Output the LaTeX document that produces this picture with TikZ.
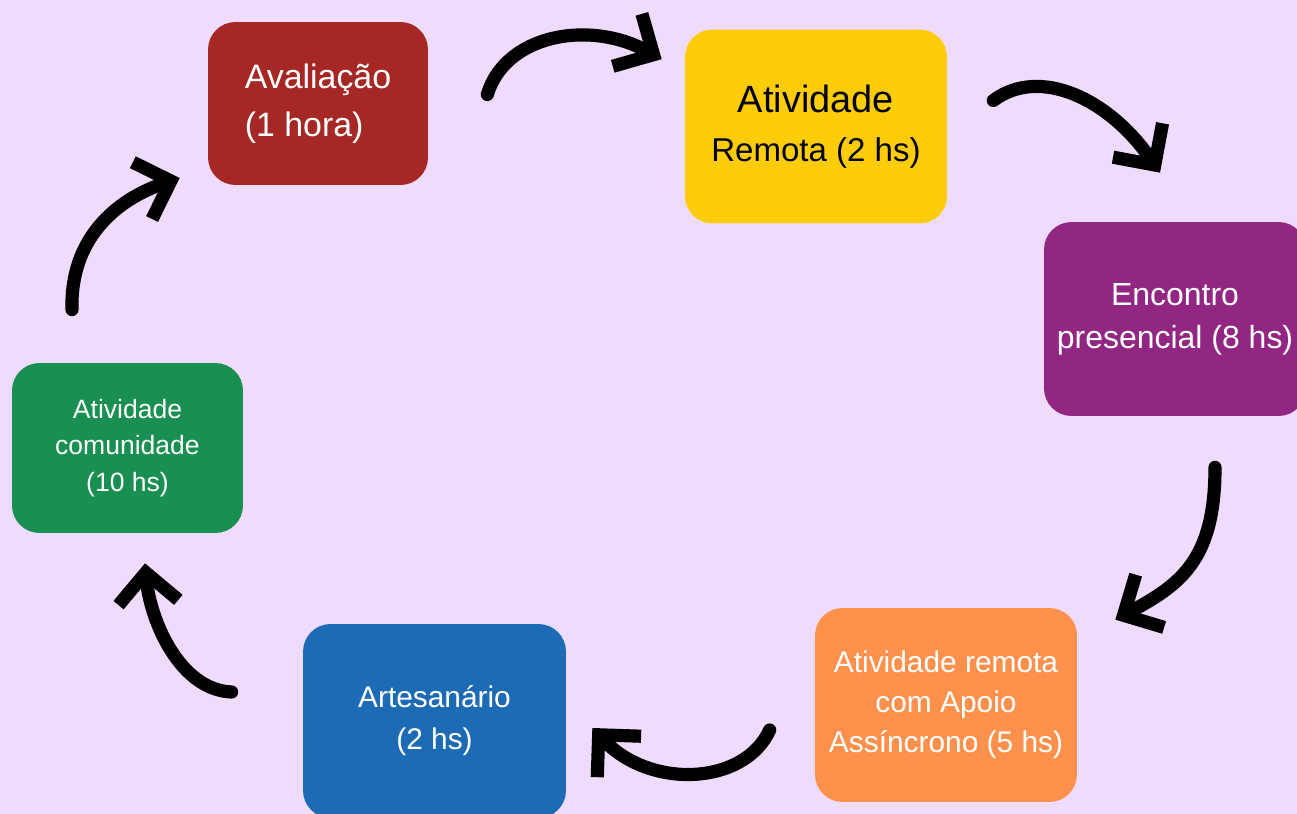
\documentclass[tikz,border=0pt]{standalone}
\usepackage{fontspec}
\setmainfont{Liberation Sans}
\usetikzlibrary{arrows.meta, calc}
\definecolor{bglilac}{HTML}{EEDBFE}
\definecolor{avalred}{HTML}{A62824}
\definecolor{remyellow}{HTML}{FFCC0A}
\definecolor{encpurple}{HTML}{922683}
\definecolor{apoorange}{HTML}{FF914D}
\definecolor{artblue}{HTML}{1E6BB5}
\definecolor{comgreen}{HTML}{198F51}

\begin{document}
\begin{tikzpicture}[
		x=0.02cm, y=-0.02cm,
		stage/.style={rounded corners=0.55cm, align=center, inner sep=0pt, text=white, minimum width=5.24cm, minimum height=3.88cm},
		flow/.style={line width=7.5pt, line cap=round, line join=round, -{Straight Barb[length=6mm, width=12mm]}}
		]
		
		% BACKGROUND
		\fill[bglilac] (0,0) rectangle (1297,814);
		\useasboundingbox (0,0) rectangle (1297,814);
		
		% STAGES
		\node[stage, fill=avalred, align=left, minimum width=4.4cm, minimum height=3.26cm, font=\fontsize{19.3}{27.3}\selectfont] (aval) at (318,103.5) {Avaliação\\(1 hora)};
		
		\node[stage, fill=remyellow, text=black, font=\fontsize{18.8}{28}\selectfont] (remota) at (816,126.5) {{\fontsize{21.6}{28}\selectfont Atividade}\\Remota (2 hs)};
		
		\node[stage, fill=encpurple, font=\fontsize{18.2}{24.5}\selectfont] (encontro) at (1175,319) {Encontro\\presencial (8 hs)};
		
		\node[stage, fill=apoorange, font=\fontsize{17}{22.8}\selectfont] (apoio) at (946,705) {Atividade remota\\com Apoio\\Assíncrono (5 hs)};
		
		\node[stage, fill=artblue, minimum width=5.26cm, font=\fontsize{17}{24}\selectfont] (artes) at (434.5,721) {Artesanário\\(2 hs)};
		
		\node[stage, fill=comgreen, minimum width=4.62cm, minimum height=3.4cm, font=\fontsize{15.1}{20.8}\selectfont] (comun) at (127.5,448) {Atividade\\comunidade\\(10 hs)};
		
		% CYCLE ARROWS
		\draw[flow] ($(aval.east)+(59,-9)$) .. controls +(18,-60) and +(-72,-40) .. ($(remota.north west)+(-23,30)$);
		\draw[flow] ($(remota.east)+(46,-26)$) .. controls +(47,-35) and +(-50,-73) .. ($(encontro.north)+(-15,-49)$);
		\draw[flow] ($(encontro.south)+(40,51)$) .. controls +(0,93) and +(65,-35) .. ($(apoio.north east)+(38,12)$);
		\draw[flow] ($(apoio.west)+(-45,25)$) .. controls +(-25,55) and +(58,62) .. ($(artes.east)+(26,7)$);
		\draw[flow] ($(artes.west)+(-71,-29)$) .. controls +(-52,-2) and +(5,57) .. ($(comun.south)+(17.5,30)$);
		\draw[flow] ($(comun.north)+(-55.5,-53)$) .. controls +(-2,-70) and +(-65,22) .. ($(aval.west)+(-28,74.5)$);
		
	\end{tikzpicture}
\end{document}
